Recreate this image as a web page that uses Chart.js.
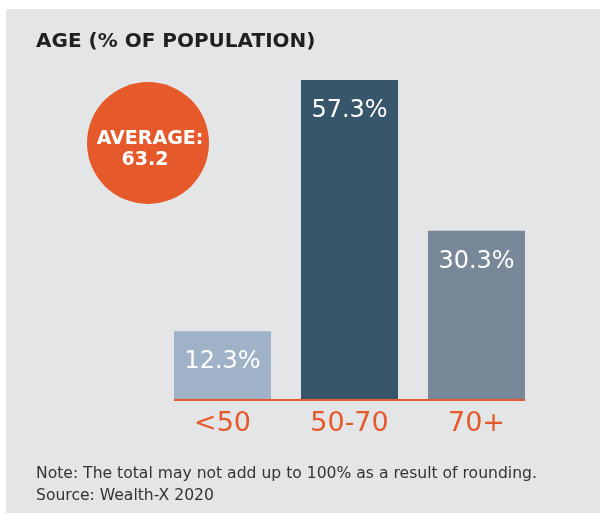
<!DOCTYPE html>
<html>
<head>
<meta charset="utf-8">
<script src="https://cdn.jsdelivr.net/npm/chart.js@4.4.1/dist/chart.umd.min.js"></script>
<style>
  html, body { margin: 0; padding: 0; background: #ffffff; }
  #wrap { width: 600px; height: 513px; }
</style>
</head>
<body>
<div id="wrap"><canvas id="ageChart" width="600" height="513"></canvas></div>
<script>
// Chart data
const categories = ['<50', '50-70', '70+'];
const shares = [12.3, 57.3, 30.3];
const barColors = ['#a0b2c8', '#37566b', '#788898'];
const averageAge = 63.2;
const titleText = 'AGE (% OF POPULATION)';
const noteLines = [
    'Note: The total may not add up to 100% as a result of rounding.',
    'Source: Wealth-X 2020'
];

const ORANGE = '#e5592b';
const FONT = "'DejaVu Sans', sans-serif";

// Panel background, title, average bubble, notes
const decorPlugin = {
    id: 'decor',
    beforeDraw(chart) {
        const ctx = chart.ctx;
        ctx.save();
        ctx.fillStyle = '#e4e5e7';
        ctx.fillRect(6, 9, 594, 504);

        ctx.fillStyle = '#231f20';
        ctx.font = "bold 20px " + FONT;
        ctx.textBaseline = 'alphabetic';
        ctx.textAlign = 'left';
        ctx.fillText(titleText, 36, 47);

        // average bubble
        ctx.fillStyle = ORANGE;
        ctx.beginPath();
        ctx.arc(148, 143, 61, 0, Math.PI * 2);
        ctx.fill();
        ctx.fillStyle = '#ffffff';
        ctx.textAlign = 'center';
        ctx.font = "bold 19px " + FONT;
        ctx.fillText('AVERAGE:', 150, 144);
        ctx.fillText(averageAge.toFixed(1), 145, 165);

        // notes
        ctx.fillStyle = '#333333';
        ctx.textAlign = 'left';
        ctx.font = "15.6px " + FONT;
        ctx.fillText(noteLines[0], 36, 478);
        ctx.fillText(noteLines[1], 36, 500);
        ctx.restore();
    },
    afterDatasetsDraw(chart) {
        const ctx = chart.ctx;
        const meta = chart.getDatasetMeta(0);
        const y0 = chart.scales.y.getPixelForValue(0);
        const first = meta.data[0];
        const last = meta.data[meta.data.length - 1];
        ctx.save();
        // baseline
        ctx.strokeStyle = ORANGE;
        ctx.lineWidth = 2;
        ctx.beginPath();
        ctx.moveTo(first.x - first.width / 2, y0);
        ctx.lineTo(last.x + last.width / 2, y0);
        ctx.stroke();

        // value labels inside bars
        ctx.fillStyle = '#ffffff';
        ctx.font = "24px " + FONT;
        ctx.textAlign = 'center';
        ctx.textBaseline = 'alphabetic';
        meta.data.forEach((bar, i) => {
            ctx.fillText(shares[i].toFixed(1) + '%', bar.x, bar.y + 37);
        });
        ctx.restore();
    }
};

new Chart(document.getElementById('ageChart'), {
    type: 'bar',
    data: {
        labels: categories,
        datasets: [{
            data: shares,
            backgroundColor: barColors,
            borderWidth: 0,
            categoryPercentage: 1,
            barPercentage: 0.764
        }]
    },
    options: {
        responsive: false,
        animation: false,
        layout: { padding: { left: 159, right: 60, top: 65, bottom: 0 } },
        plugins: {
            legend: { display: false },
            tooltip: { enabled: false }
        },
        scales: {
            y: {
                display: false,
                min: 0,
                max: 60
            },
            x: {
                grid: { display: false, drawTicks: false },
                border: { display: false },
                ticks: {
                    color: ORANGE,
                    padding: 8,
                    font: { family: FONT, size: 27 }
                },
                afterFit(scale) { scale.height = 113; }
            }
        }
    },
    plugins: [decorPlugin]
});
</script>
</body>
</html>
